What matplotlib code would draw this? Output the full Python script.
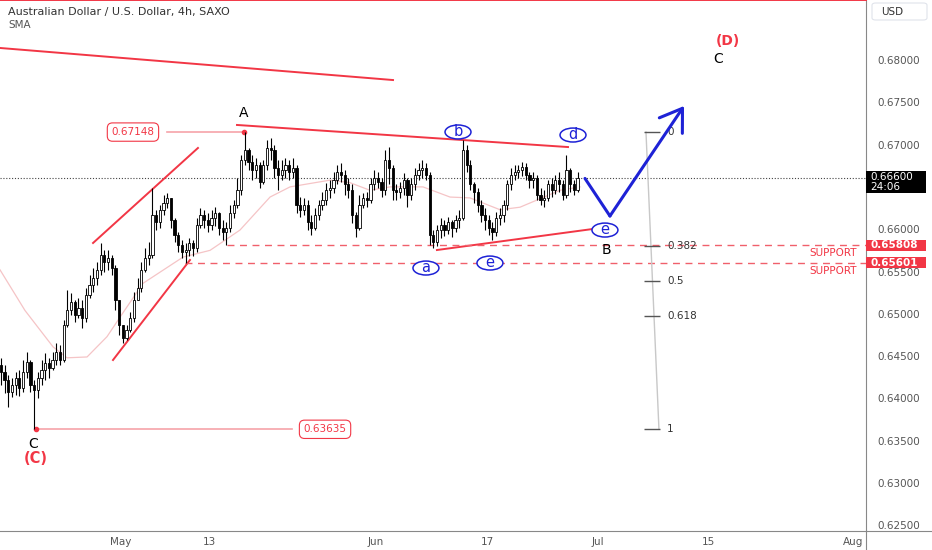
import numpy as np
import matplotlib.pyplot as plt
from matplotlib.lines import Line2D
from matplotlib.patches import Ellipse, Rectangle, FancyBboxPatch

# AUD/USD, candles at 3 bars per trading day
# x axis = trading days counted from Tue 16 Apr 2024
bars_per_day = 3
first_open = 0.6440

closes = [
    0.6431, 0.6422, 0.6408, 0.6416, 0.6424, 0.6412, 0.6431, 0.6443, 0.6416, 0.6410,
    0.6424, 0.6434, 0.6442, 0.6436, 0.6445, 0.6455, 0.6445, 0.6487, 0.6504, 0.6514,
    0.6499, 0.6507, 0.6495, 0.6522, 0.6534, 0.6542, 0.6552, 0.6570, 0.6561, 0.6566,
    0.6554, 0.6516, 0.6487, 0.6471, 0.6481, 0.6495, 0.6516, 0.6530, 0.6552, 0.6566,
    0.6570, 0.6617, 0.6609, 0.6623, 0.6631, 0.6637, 0.6611, 0.6593, 0.6581, 0.6573,
    0.6575, 0.6584, 0.6578, 0.6605, 0.6617, 0.6611, 0.6605, 0.6613, 0.6619, 0.6601,
    0.6597, 0.6601, 0.6619, 0.6629, 0.6646, 0.6682, 0.6694, 0.6679, 0.6670, 0.6676,
    0.6656, 0.6676, 0.6696, 0.6694, 0.6672, 0.6664, 0.6670, 0.6676, 0.6668, 0.6672,
    0.6629, 0.6623, 0.6629, 0.6609, 0.6601, 0.6617, 0.6629, 0.6635, 0.6646, 0.6649,
    0.6658, 0.6668, 0.6664, 0.6653, 0.6646, 0.6617, 0.6601, 0.6629, 0.6637, 0.6635,
    0.6653, 0.6660, 0.6656, 0.6646, 0.6682, 0.6672, 0.6646, 0.6644, 0.6649, 0.6658,
    0.6640, 0.6653, 0.6664, 0.6670, 0.6672, 0.6664, 0.6593, 0.6585, 0.6599, 0.6605,
    0.6599, 0.6609, 0.6601, 0.6611, 0.6613, 0.6694, 0.6676, 0.6653, 0.6644, 0.6629,
    0.6617, 0.6611, 0.6601, 0.6597, 0.6613, 0.6617, 0.6629, 0.6653, 0.6664, 0.6668,
    0.6670, 0.6674, 0.6664, 0.6658, 0.6660, 0.6640, 0.6635, 0.6637, 0.6653, 0.6646,
    0.6658, 0.6653, 0.6640, 0.6670, 0.6653, 0.6646, 0.6660,
]
highs = [
    0.6448, 0.6439, 0.6428, 0.6424, 0.6431, 0.6434, 0.6445, 0.6455, 0.6445, 0.6422,
    0.6431, 0.6445, 0.6454, 0.6448, 0.6455, 0.6465, 0.6463, 0.6493, 0.6528, 0.6525,
    0.6516, 0.6519, 0.6516, 0.6530, 0.6546, 0.6554, 0.6561, 0.6584, 0.6575, 0.6575,
    0.6570, 0.6558, 0.6516, 0.6487, 0.6487, 0.6502, 0.6526, 0.6542, 0.6561, 0.6578,
    0.6585, 0.6649, 0.6623, 0.6629, 0.6640, 0.6643, 0.6637, 0.6613, 0.6597, 0.6587,
    0.6584, 0.6590, 0.6587, 0.6613, 0.6625, 0.6623, 0.6619, 0.6623, 0.6626, 0.6620,
    0.6611, 0.6609, 0.6629, 0.6635, 0.6660, 0.6688, 0.67148, 0.6696, 0.6688, 0.6684,
    0.6679, 0.6682, 0.6706, 0.6708, 0.6700, 0.6682, 0.6682, 0.6684, 0.6682, 0.6684,
    0.6676, 0.6638, 0.6637, 0.6635, 0.6617, 0.6625, 0.6635, 0.6644, 0.6655, 0.6658,
    0.6668, 0.6676, 0.6678, 0.6670, 0.6660, 0.6653, 0.6620, 0.6640, 0.6643, 0.6644,
    0.6660, 0.6670, 0.6668, 0.6660, 0.6694, 0.6697, 0.6676, 0.6653, 0.6656, 0.6666,
    0.6660, 0.6660, 0.6672, 0.6678, 0.6682, 0.6678, 0.6668, 0.6599, 0.6605, 0.6613,
    0.6611, 0.6614, 0.6611, 0.6617, 0.6623, 0.6706, 0.6700, 0.6682, 0.6656, 0.6649,
    0.6635, 0.6625, 0.6617, 0.6609, 0.6620, 0.6625, 0.6635, 0.6658, 0.6672, 0.6676,
    0.6676, 0.6679, 0.6678, 0.6668, 0.6668, 0.6664, 0.6649, 0.6646, 0.6658, 0.6660,
    0.6664, 0.6668, 0.6658, 0.6688, 0.6672, 0.6658, 0.6668,
]
lows = [
    0.6416, 0.6406, 0.6390, 0.6402, 0.6404, 0.6403, 0.6408, 0.6424, 0.6408, 0.63635,
    0.6400, 0.6416, 0.6422, 0.6424, 0.6434, 0.6439, 0.6439, 0.6443, 0.6484, 0.6499,
    0.6490, 0.6495, 0.6483, 0.6490, 0.6519, 0.6526, 0.6534, 0.6546, 0.6549, 0.6552,
    0.6546, 0.6504, 0.6475, 0.6465, 0.6469, 0.6478, 0.6490, 0.6516, 0.6526, 0.6549,
    0.6558, 0.6566, 0.6599, 0.6601, 0.6617, 0.6625, 0.6601, 0.6585, 0.6573, 0.6566,
    0.65601, 0.6568, 0.6568, 0.6573, 0.6601, 0.6601, 0.6597, 0.6599, 0.6604, 0.6593,
    0.6587, 0.65808, 0.6597, 0.6613, 0.6625, 0.6640, 0.6676, 0.6670, 0.6658, 0.6660,
    0.6649, 0.6653, 0.6670, 0.6682, 0.6660, 0.6646, 0.6658, 0.6660, 0.6658, 0.6660,
    0.6619, 0.6614, 0.6617, 0.6599, 0.6593, 0.6599, 0.6611, 0.6623, 0.6629, 0.6637,
    0.6643, 0.6653, 0.6656, 0.6640, 0.6637, 0.6607, 0.6591, 0.6599, 0.6625, 0.6626,
    0.6631, 0.6646, 0.6649, 0.6638, 0.6640, 0.6653, 0.6635, 0.6635, 0.6637, 0.6640,
    0.6626, 0.6635, 0.6646, 0.6658, 0.6660, 0.6658, 0.6581, 0.6578, 0.6580, 0.6590,
    0.6592, 0.6594, 0.6591, 0.6597, 0.6601, 0.6611, 0.6668, 0.6646, 0.6631, 0.6620,
    0.6609, 0.6599, 0.6593, 0.6587, 0.6592, 0.6605, 0.6609, 0.6623, 0.6646, 0.6658,
    0.6660, 0.6663, 0.6658, 0.6649, 0.6649, 0.6635, 0.6629, 0.6626, 0.6633, 0.6638,
    0.6642, 0.6644, 0.6635, 0.6637, 0.6644, 0.6640, 0.6644,
]

# SMA (day, price)
sma_days = [0.09, 2.34, 4.87, 6.13, 7.94, 9.74, 10.91, 12.98, 16.59, 19.03, 21.73, 24.44,
            26.24, 29.85, 31.65, 33.45, 35.26, 38.23, 40.67, 42.47, 45.18, 46.98, 50.59, 52.39]
sma_vals = [0.6552, 0.6504, 0.6461, 0.6448, 0.6449, 0.6473, 0.6496, 0.6536, 0.6567, 0.6575,
            0.6599, 0.6638, 0.6650, 0.6658, 0.6655, 0.6646, 0.6650, 0.6650, 0.6638, 0.6637,
            0.6623, 0.6626, 0.6646, 0.6650]

# x tick dates (trading day index)
date_ticks = [11, 19, 34, 44, 54, 64, 77]
date_labels = ['May', '13', 'Jun', '17', 'Jul', '15', 'Aug']
price_ticks = [0.625, 0.63, 0.635, 0.64, 0.645, 0.65, 0.655, 0.66, 0.665, 0.67, 0.675, 0.68]

swing_high = 0.67148
swing_low = 0.63635
support_1 = 0.65808
support_2 = 0.65601
last_price = 0.66600
fib_ratios = [0, 0.382, 0.5, 0.618, 1]

RED = '#f23645'
BLUE = '#1e22d6'
GREY = '#555555'

fig = plt.figure(figsize=(9.32, 5.5), dpi=100)
ax = fig.add_axes([0, 19 / 550, 866 / 932, 531 / 550])
ax.set_xlim(0.09, 78.18)
ax.set_ylim(0.62433, 0.68709)

# candles
c = np.array(closes)
h = np.array(highs)
l = np.array(lows)
o = np.r_[first_open, c[:-1]]
h = np.maximum(h, np.maximum(o, c))
l = np.minimum(l, np.minimum(o, c))
x = (np.arange(len(c)) + 0.5) / bars_per_day
up = c >= o
bw = 0.6 / bars_per_day
ax.vlines(x, l, h, color='black', lw=0.8, zorder=3)
ax.bar(x[up], np.maximum((c - o)[up], 0.00003), bottom=o[up], width=bw,
       color='white', edgecolor='black', lw=0.6, zorder=4)
ax.bar(x[~up], (o - c)[~up], bottom=c[~up], width=bw,
       color='black', edgecolor='black', lw=0.6, zorder=4)

ax.plot(sma_days, sma_vals, color='#f5c4c6', lw=0.9, zorder=2)

# last price dotted line
ax.axhline(last_price, color='#444444', lw=0.8, ls=(0, (1, 1.6)), zorder=1)

# trend lines
ax.plot([0.09, 35.53], [0.68142, 0.67763], color=RED, lw=1.4)
ax.plot([21.46, 51.31], [0.67232, 0.66971], color=RED, lw=1.4)
ax.plot([39.49, 54.19], [0.65754, 0.66014], color=RED, lw=1.4)
ax.plot([8.48, 17.94], [0.65837, 0.66960], color=RED, lw=1.4)
ax.plot([10.28, 17.22], [0.64454, 0.65636], color=RED, lw=1.4)

# support lines
ax.hlines(support_1, 20.56, 78.18, color='#f0606b', lw=1.0, ls=(0, (5, 4)))
ax.hlines(support_2, 16.77, 78.18, color='#f0606b', lw=1.0, ls=(0, (5, 4)))
ax.text(77.4, 0.65717, 'SUPPORT', color=RED, fontsize=7.5, ha='right', va='center')
ax.text(77.4, 0.65507, 'SUPPORT', color=RED, fontsize=7.5, ha='right', va='center')

# swing price labels
ax.plot([15.15, 22.09], [swing_high, swing_high], color='#f6a3a9', lw=1.2)
ax.plot([22.09], [swing_high], 'o', color=RED, ms=3)
ax.text(12.08, swing_high, '0.67148', color=RED, fontsize=7.5, ha='center', va='center',
        bbox=dict(boxstyle='round,pad=0.4,rounding_size=0.5', fc='white', ec=RED, lw=0.8))
ax.plot([3.34, 26.42], [swing_low, swing_low], color='#f6a3a9', lw=1.2)
ax.plot([3.34], [swing_low], 'o', color=RED, ms=3)
ax.text(29.4, swing_low, '0.63635', color=RED, fontsize=7.5, ha='center', va='center',
        bbox=dict(boxstyle='round,pad=0.4,rounding_size=0.5', fc='white', ec=RED, lw=0.8))

# wave labels
ax.text(22.09, 0.67373, 'A', fontsize=10, ha='center', va='center')
ax.text(54.8, 0.65754, 'B', fontsize=10, ha='center', va='center')
ax.text(64.83, 0.68012, 'C', fontsize=10, ha='center', va='center')
ax.text(65.73, 0.68224, '(D)', fontsize=10, color=RED, fontweight='bold', ha='center', va='center')
ax.text(3.07, 0.63460, 'C', fontsize=10, ha='center', va='center')
ax.text(3.34, 0.63290, '(C)', fontsize=10.5, color=RED, fontweight='bold', ha='center', va='center')

circles = [('b', 41.39, 0.67149), ('d', 51.76, 0.67113), ('e', 54.64, 0.65990),
           ('a', 38.5, 0.65541), ('e', 44.27, 0.65600)]
for letter, cx, cy in circles:
    ax.add_patch(Ellipse((cx, cy), 2.34, 0.00165, fc='white', ec=BLUE, lw=1.1, zorder=6))
    ax.text(cx, cy + 0.00008, letter, color=BLUE, fontsize=10.5, ha='center', va='center', zorder=7)

# projected path
ax.plot([52.84, 55.09], [last_price, 0.66156], color=BLUE, lw=2.2, solid_capstyle='round', zorder=5)
ax.annotate('', xy=(61.77, 0.67456), xytext=(55.09, 0.66156),
            arrowprops=dict(arrowstyle='->,head_length=0.75,head_width=0.5', lw=2.2,
                            color=BLUE, shrinkA=0, shrinkB=0, mutation_scale=20), zorder=5)

# fib retracement
fib_prices = [swing_high - r * (swing_high - swing_low) for r in fib_ratios]
ax.plot([58.34, 59.51], [swing_high, swing_low], color='#c8c8c8', lw=1.0)
ax.hlines(fib_prices, 58.2, 59.6, color=GREY, lw=1.0)
for r, p in zip(fib_ratios, fib_prices):
    ax.text(60.24, p, f'{r:g}', fontsize=7.5, color='#333333', va='center')

# axes styling
ax.spines['left'].set_visible(False)
ax.spines['top'].set_color(RED)
ax.spines['top'].set_linewidth(1.4)
ax.spines['right'].set_color('#888888')
ax.spines['bottom'].set_color('#888888')
ax.yaxis.tick_right()
ax.set_yticks(price_ticks)
# the 0.665 label sits under the last-price tag, so it stays blank
ax.set_yticklabels(['' if abs(p - 0.665) < 1e-9 else f'{p:.5f}' for p in price_ticks])
ax.set_xticks(date_ticks)
ax.set_xticklabels(date_labels)
ax.tick_params(axis='y', length=0, pad=8, labelsize=7.5, labelcolor=GREY)
ax.tick_params(axis='x', length=0, pad=4, labelsize=7.5, labelcolor=GREY)

fig.add_artist(Line2D([866 / 932, 866 / 932], [0, 19 / 550], color='#888888', lw=0.8))
fig.add_artist(Line2D([866 / 932, 1], [19 / 550, 19 / 550], color='#888888', lw=0.8))

# right axis tags, drawn as boxes over the price scale
ytr = ax.get_yaxis_transform()
tags = [(support_1, '0.65808', RED, 0.00130, 'bold'),
        (support_2, '0.65601', RED, 0.00130, 'bold'),
        (0.6656, '0.66600\n24:06', 'black', 0.00260, 'normal')]
for ty, label, fc, hgt, wt in tags:
    ax.add_patch(Rectangle((1.0, ty - hgt / 2), 60 / 866, hgt, transform=ytr,
                           fc=fc, ec='none', clip_on=False, zorder=10))
    ax.text(1.005, ty, label, transform=ytr, color='white', fontsize=7.5, fontweight=wt,
            va='center', linespacing=1.0, clip_on=False, zorder=11)

fig.add_artist(FancyBboxPatch((872 / 932, 1 - 20 / 550), 55 / 932, 17 / 550,
                              boxstyle='round,pad=0,rounding_size=0.004',
                              transform=fig.transFigure, fc='white', ec='#e0e3eb', lw=0.8))
fig.text(881 / 932, 1 - 12 / 550, 'USD', fontsize=7.5, color='#333333', va='center')

fig.text(8 / 932, 1 - 12 / 550, 'Australian Dollar / U.S. Dollar, 4h, SAXO', fontsize=8,
         color='#333333', va='center')
fig.text(8 / 932, 1 - 25 / 550, 'SMA', fontsize=7.5, color=GREY, va='center')

fig.savefig('out.png', dpi=100)
